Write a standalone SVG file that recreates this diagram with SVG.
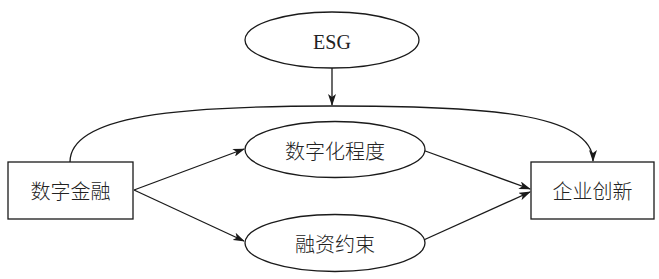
<svg xmlns="http://www.w3.org/2000/svg" width="659" height="279" viewBox="0 0 659 279">
<style>
.shape{fill:#fff;stroke:#1a1a1a;stroke-width:1.3}
.line{fill:none;stroke:#1a1a1a;stroke-width:1.3}
.zh{font-family:"Noto Sans CJK SC","Noto Sans CJK JP",sans-serif;font-size:20px;font-weight:300;fill:#222;text-anchor:middle;dominant-baseline:central}
.en{font-family:"Liberation Serif",serif;font-size:20px;fill:#222;text-anchor:middle;dominant-baseline:central}
</style>
<defs>
<marker id="arr" viewBox="0 0 12 8" refX="11" refY="4" markerWidth="12" markerHeight="8" markerUnits="userSpaceOnUse" orient="auto">
<path d="M0,0 L12,4 L0,8 L3,4 z" fill="#1a1a1a"/>
</marker>
</defs>
<g id="connectors">
<line class="line" x1="332" y1="68" x2="332" y2="105" marker-end="url(#arr)"/>
<path class="line" d="M70,162 C70,115 180,106 332,106 C480,106 593,112 593,161" marker-end="url(#arr)"/>
<line class="line" x1="134" y1="190" x2="244" y2="149" marker-end="url(#arr)"/>
<line class="line" x1="134" y1="190" x2="244" y2="241" marker-end="url(#arr)"/>
<line class="line" x1="417" y1="148" x2="530" y2="189" marker-end="url(#arr)"/>
<line class="line" x1="417" y1="243" x2="530" y2="192" marker-end="url(#arr)"/>
</g>
<g id="esg">
<ellipse class="shape" cx="332" cy="40" rx="87" ry="28"/>
<text class="en" x="332" y="42">ESG</text>
</g>
<g id="digital-finance">
<rect class="shape" x="8" y="162" width="125" height="57"/>
<text class="zh" x="70.5" y="190">数字金融</text>
</g>
<g id="digitalization">
<ellipse class="shape" cx="335" cy="149.5" rx="90" ry="28"/>
<text class="zh" x="335" y="150">数字化程度</text>
</g>
<g id="financing">
<ellipse class="shape" cx="335" cy="243" rx="90" ry="28.5"/>
<text class="zh" x="335" y="243">融资约束</text>
</g>
<g id="innovation">
<rect class="shape" x="531" y="162" width="123" height="57"/>
<text class="zh" x="592.5" y="190">企业创新</text>
</g>
</svg>
